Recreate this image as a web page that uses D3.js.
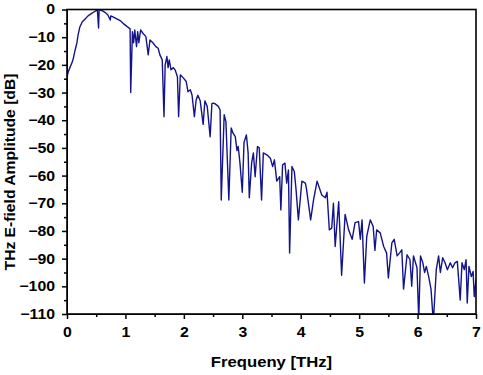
<!DOCTYPE html>
<html>
<head>
<meta charset="utf-8">
<script src="https://cdn.jsdelivr.net/npm/d3@7"></script>
<style>
  body { margin: 0; background: #fff; }
  svg text { font-family: "Liberation Sans", Arial, sans-serif; font-weight: bold; }
</style>
</head>
<body>
<div id="chart"></div>
<script>
// spectrum: frequency [THz] and amplitude [dB]
var freq = [0.00, 0.02, 0.05, 0.09, 0.11, 0.14, 0.17, 0.19, 0.22, 0.26, 0.31, 0.36, 0.41, 0.46, 0.50, 0.52, 0.54, 0.55,
    0.60, 0.65, 0.70, 0.74, 0.75, 0.82, 0.91, 0.96, 1.03, 1.08, 1.09, 1.12, 1.14, 1.16, 1.19, 1.21, 1.23, 1.26,
    1.30, 1.35, 1.39, 1.42, 1.47, 1.52, 1.56, 1.59, 1.63, 1.66, 1.68, 1.71, 1.73, 1.75, 1.78, 1.82, 1.85, 1.89,
    1.91, 1.94, 1.99, 2.04, 2.07, 2.11, 2.14, 2.18, 2.21, 2.24, 2.28, 2.33, 2.36, 2.40, 2.45, 2.48, 2.50, 2.53,
    2.59, 2.62, 2.64, 2.69, 2.72, 2.77, 2.81, 2.84, 2.88, 2.91, 2.93, 2.96, 3.00, 3.03, 3.07, 3.10, 3.12, 3.16,
    3.19, 3.22, 3.26, 3.29, 3.33, 3.36, 3.42, 3.48, 3.52, 3.55, 3.59, 3.64, 3.66, 3.69, 3.73, 3.76, 3.79, 3.81,
    3.85, 3.89, 3.92, 3.96, 4.02, 4.08, 4.10, 4.17, 4.22, 4.28, 4.36, 4.42, 4.45, 4.49, 4.53, 4.56, 4.59, 4.65,
    4.70, 4.76, 4.82, 4.88, 4.93, 4.99, 5.02, 5.05, 5.09, 5.13, 5.19, 5.24, 5.27, 5.30, 5.36, 5.42, 5.47, 5.50,
    5.56, 5.60, 5.65, 5.69, 5.73, 5.76, 5.82, 5.87, 5.90, 5.93, 5.99, 6.02, 6.05, 6.09, 6.12, 6.15, 6.19, 6.23,
    6.27, 6.32, 6.36, 6.39, 6.43, 6.47, 6.51, 6.56, 6.60, 6.64, 6.68, 6.73, 6.76, 6.80, 6.83, 6.85, 6.88, 6.92,
    6.95, 6.97, 7.00];
var amp = [-24.4, -22.6, -21, -19, -17.5, -14.6, -12, -9.2, -6.3, -4.5, -3.4, -2.3, -1.6, -0.9, -0.4, -0.2, -6.7, -0.2,
    -0.4, -1.0, -2.0, -3.8, -2.3, -3.0, -4.0, -5.0, -6.2, -7, -30, -8, -12, -7.4, -13.4, -8, -12, -7.4,
    -8.6, -9.8, -16.4, -11, -12, -13.4, -14, -16.4, -18.2, -38.7, -20, -17, -21, -18.2, -21.8, -21, -21.8, -24.3,
    -38.7, -23.6, -24.7, -26, -29.7, -29, -30.9, -38.7, -32.7, -31, -33, -41.5, -33, -35, -46, -34, -33.8, -34,
    -35, -36.3, -68.8, -38, -40.6, -68.8, -42.8, -44.6, -45.9, -51, -49.5, -55.4, -66, -48, -45.3, -51.8, -68, -55.4,
    -51.8, -60.4, -49.5, -50, -68.8, -51.8, -52.5, -53.7, -56.7, -54.3, -62, -60.4, -72.4, -56.1, -55.5, -62.7, -58, -88,
    -56.7, -58.5, -65, -76, -62, -62.7, -65, -76, -68.8, -62, -67, -68, -66, -79.6, -79, -70, -85.6, -69.4,
    -96, -74, -79.6, -83, -77, -76.6, -83, -76, -98.8, -82, -76, -78.4, -87, -79.6, -80.7, -85.6, -88, -97,
    -84.3, -83, -89, -88, -86.8, -101, -88.6, -90.4, -100, -89, -93.3, -112, -89, -91.5, -95, -92.8, -96.5, -101,
    -113, -94, -89, -95, -89.7, -91.5, -94, -91.5, -93.3, -91.5, -91, -105, -91.5, -94, -90.4, -106, -92.8, -96.5,
    -94.6, -103.7, -97.6];

var xTicks = [0, 1, 2, 3, 4, 5, 6, 7];
var yTicks = [0, -10, -20, -30, -40, -50, -60, -70, -80, -90, -100, -110];

var width = 483, height = 375;
var margin = { top: 9.5, right: 7, bottom: 61, left: 67 };
var w = width - margin.left - margin.right;
var h = height - margin.top - margin.bottom;

var svg = d3.select('#chart')
    .append('svg')
        .attr('width', width)
        .attr('height', height);

var g = svg.append('g')
    .attr('transform', 'translate(' + margin.left + ',' + margin.top + ')');

var x = d3.scaleLinear().domain([0, 7]).range([0, w]);
var y = d3.scaleLinear().domain([-110, 0]).range([h, 0]);

g.append('clipPath')
        .attr('id', 'clip')
    .append('rect')
        .attr('width', w)
        .attr('height', h);

var line = d3.line()
    .x(function (d, i) { return x(freq[i]); })
    .y(function (d) { return y(d); });

g.append('path')
    .datum(amp)
    .attr('clip-path', 'url(#clip)')
    .attr('d', line)
    .style('fill', 'none')
    .style('stroke', '#14148a')
    .style('stroke-width', 1.4)
    .style('stroke-linejoin', 'round');

// minor ticks
g.append('g')
    .attr('transform', 'translate(0,' + h + ')')
    .call(d3.axisBottom(x).tickValues(d3.range(0.5, 7, 1)).tickSize(3).tickFormat(''))
    .call(function (s) { s.select('.domain').remove(); });
g.append('g')
    .call(d3.axisLeft(y).tickValues(d3.range(-105, 0, 10)).tickSize(3).tickFormat(''))
    .call(function (s) { s.select('.domain').remove(); });

// major ticks + labels
var xAxis = g.append('g')
    .attr('transform', 'translate(0,' + h + ')')
    .call(d3.axisBottom(x).tickValues(xTicks).tickFormat(d3.format('d'))
        .tickSize(5).tickPadding(8).tickSizeOuter(0));
var yAxis = g.append('g')
    .call(d3.axisLeft(y).tickValues(yTicks).tickFormat(d3.format('d'))
        .tickSize(5).tickPadding(7).tickSizeOuter(0));

// the reference glyphs are a little wider than Arial, stretch them
function widen(sel, k) {
    sel.each(function () {
        var len = this.getComputedTextLength();
        d3.select(this)
            .attr('textLength', len * k)
            .attr('lengthAdjust', 'spacingAndGlyphs');
    });
}

[xAxis, yAxis].forEach(function (a) {
    a.selectAll('text').style('font-size', '14px').style('fill', '#000')
        .call(widen, 1.13);
});
g.selectAll('.tick line').style('stroke', '#000').style('stroke-width', 1.5);

// frame
g.append('rect')
    .attr('width', w)
    .attr('height', h)
    .style('fill', 'none')
    .style('stroke', '#000')
    .style('stroke-width', 1.6);

svg.append('text')
    .text('Frequeny [THz]')
    .attr('x', margin.left + w / 2)
    .attr('y', 367)
    .attr('text-anchor', 'middle')
    .style('font-size', '14.5px')
    .call(widen, 1.15);

svg.append('text')
    .text('THz E-field Amplitude [dB]')
    .attr('transform', 'translate(15,172) rotate(-90)')
    .attr('text-anchor', 'middle')
    .style('font-size', '14.5px')
    .call(widen, 1.08);
</script>
</body>
</html>
